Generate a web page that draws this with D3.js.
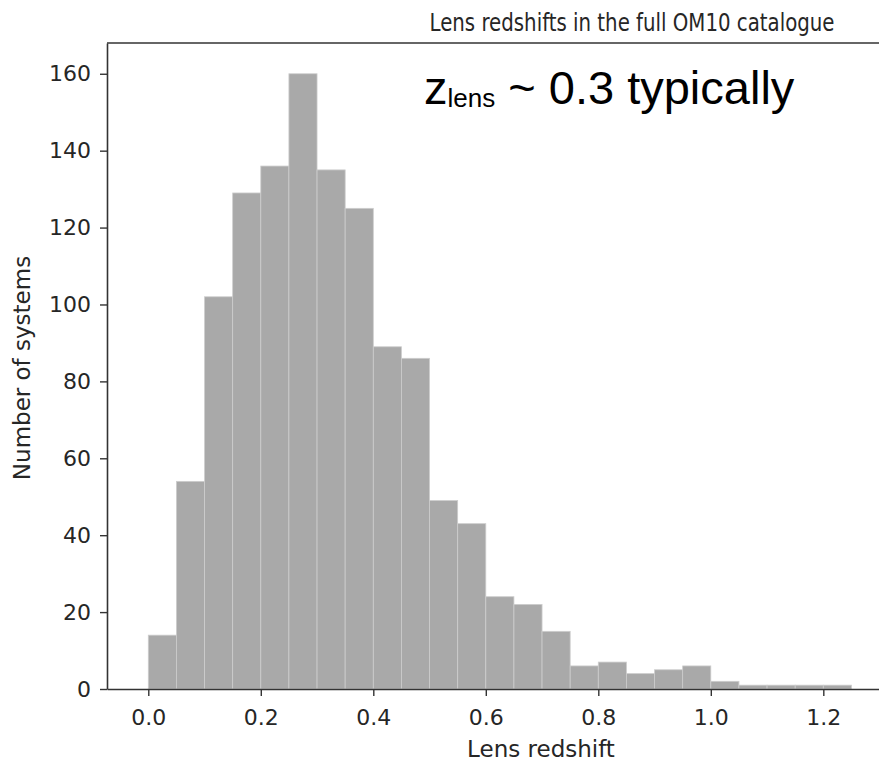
<!DOCTYPE html>
<html>
<head>
<meta charset="utf-8">
<script src="https://cdn.jsdelivr.net/npm/d3@7"></script>
<style>
  body { margin: 0; background: #fff; }
  text { font-family: "DejaVu Sans", sans-serif; fill: #262626; }
</style>
</head>
<body>
<div id="main"></div>
<script>
// histogram bins (left edges) and counts
var binEdges = [0.00, 0.05, 0.10, 0.15, 0.20, 0.25, 0.30, 0.35, 0.40, 0.45,
                0.50, 0.55, 0.60, 0.65, 0.70, 0.75, 0.80, 0.85, 0.90, 0.95,
                1.00, 1.05, 1.10, 1.15, 1.20];
var counts = [14, 54, 102, 129, 136, 160, 135, 125, 89, 86,
              49, 43, 24, 22, 15, 6, 7, 4, 5, 6,
              2, 1, 1, 1, 1];
var binWidth = 0.05;
var xTicks = [0.0, 0.2, 0.4, 0.6, 0.8, 1.0, 1.2];
var yTicks = [0, 20, 40, 60, 80, 100, 120, 140, 160];

var W = 879, H = 763;
var plot = {left: 107, top: 43, bottom: 689, right: 879};

var svg = d3.select("#main")
  .append("svg")
    .attr("width", W)
    .attr("height", H);

// the reference is cut off at the right edge, so the domain ends early
var x = d3.scaleLinear()
  .domain([-0.0734, 1.299])
  .range([plot.left, plot.right]);

var y = d3.scaleLinear()
  .domain([0, 168])
  .range([plot.bottom, plot.top]);

var bins = binEdges.map(function(e, i) { return {x0: e, x1: e + binWidth, n: counts[i]}; });

// bars
svg.append("g")
  .selectAll("rect")
  .data(bins)
  .enter().append("rect")
    .attr("x", function(d) { return x(d.x0); })
    .attr("y", function(d) { return y(d.n); })
    .attr("width", function(d) { return x(d.x1) - x(d.x0); })
    .attr("height", function(d) { return y(0) - y(d.n); })
    .attr("fill", "#a9a9a9")
    .attr("stroke", "#cdcdcd")
    .attr("stroke-width", 0.8);

// x axis
var xAxis = svg.append("g")
  .attr("transform", "translate(0," + plot.bottom + ")")
  .call(d3.axisBottom(x).tickValues(xTicks).tickFormat(d3.format(".1f"))
    .tickSize(7).tickPadding(13).tickSizeOuter(0));

// y axis
var yAxis = svg.append("g")
  .attr("transform", "translate(" + plot.left + ",0)")
  .call(d3.axisLeft(y).tickValues(yTicks).tickSize(7).tickPadding(9).tickSizeOuter(0));

[xAxis, yAxis].forEach(function(a) {
  a.select(".domain").attr("stroke", "#333").attr("stroke-width", 1.6);
  a.selectAll(".tick line").attr("stroke", "#333").attr("stroke-width", 1.4);
  a.selectAll(".tick text")
    .style("font-family", "DejaVu Sans, sans-serif")
    .style("font-size", "22px")
    .attr("fill", "#262626");
});

// top spine
svg.append("line")
  .attr("x1", plot.left).attr("x2", W)
  .attr("y1", plot.top).attr("y2", plot.top)
  .attr("stroke", "#333").attr("stroke-width", 1.6);

// title (narrow in the reference)
svg.append("text")
  .attr("x", 632)
  .attr("y", 31)
  .attr("text-anchor", "middle")
  .attr("textLength", 405)
  .attr("lengthAdjust", "spacingAndGlyphs")
  .style("font-size", "24px")
  .text("Lens redshifts in the full OM10 catalogue");

// axis labels
svg.append("text")
  .attr("x", 541)
  .attr("y", 757)
  .attr("text-anchor", "middle")
  .style("font-size", "23px")
  .text("Lens redshift");

svg.append("text")
  .attr("transform", "translate(30," + 368 + ")rotate(-90)")
  .attr("text-anchor", "middle")
  .style("font-size", "23px")
  .text("Number of systems");

// annotation
var ann = svg.append("text")
  .attr("x", 424)
  .attr("y", 104)
  .style("font-family", "Liberation Sans, Arial, sans-serif")
  .style("font-size", "47px")
  .style("fill", "#000");
ann.append("tspan").text("z");
ann.append("tspan").attr("dy", 3).style("font-size", "26px").text("lens");
ann.append("tspan").attr("dy", -3).text(" ~ 0.3 typically");
</script>
</body>
</html>
